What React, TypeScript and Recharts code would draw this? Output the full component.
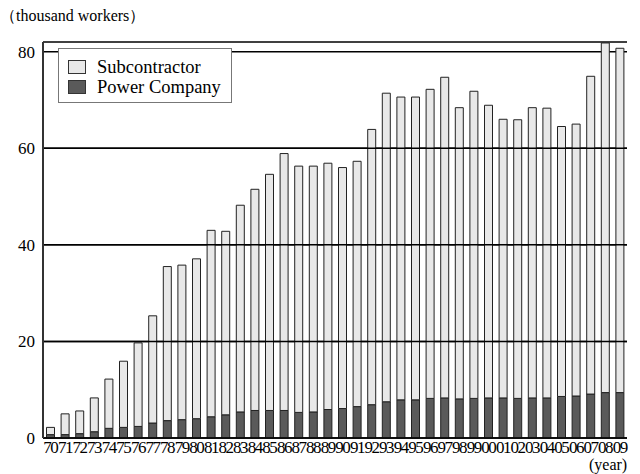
import { Bar, BarChart, CartesianGrid, ReferenceLine, XAxis, YAxis } from "recharts";

const years = [
    "70", "71", "72", "73", "74", "75", "76", "77", "78", "79",
    "80", "81", "82", "83", "84", "85", "86", "87", "88", "89",
    "90", "91", "92", "93", "94", "95", "96", "97", "98", "99",
    "00", "01", "02", "03", "04", "05", "06", "07", "08", "09",
];
// thousand workers
const powerCompany = [
    0.7, 0.7, 0.9, 1.3, 2.0, 2.2, 2.4, 3.1, 3.6, 3.8,
    4.0, 4.4, 4.8, 5.4, 5.7, 5.7, 5.7, 5.3, 5.4, 5.9,
    6.1, 6.5, 6.9, 7.5, 7.9, 7.9, 8.2, 8.3, 8.1, 8.2,
    8.3, 8.3, 8.2, 8.3, 8.3, 8.6, 8.7, 9.1, 9.4, 9.4,
];
const subcontractor = [
    1.5, 4.3, 4.7, 7.0, 10.2, 13.7, 17.3, 22.2, 31.9, 32.0,
    33.1, 38.6, 38.0, 42.8, 45.8, 48.9, 53.2, 51.0, 50.9, 51.0,
    49.9, 50.8, 57.0, 63.9, 62.7, 62.7, 64.0, 66.4, 60.3, 63.6,
    60.6, 57.7, 57.7, 60.1, 60.0, 55.9, 56.3, 65.8, 72.4, 71.3,
];
const yTicks = [0, 20, 40, 60, 80];
const gridOnTop = [20, 40, 60];

const data = years.map((y, i) => ({
    year: y,
    power: powerCompany[i],
    sub: subcontractor[i],
}));

const serif = "Liberation Serif, serif";
const LIGHT = "#e8e8e8";
const DARK = "#5a5a5a";

function YearTick({ x, y, payload }: any) {
    return (
        <text x={x} y={y} dy={7} textAnchor="middle" fontFamily={serif} fontSize={17} letterSpacing={-1.5} fill="#000">
            {payload.value}
        </text>
    );
}

export default function App() {
    return (
        <div style={{ position: "absolute", left: 0, top: 0, width: 640, height: 474, background: "#fff", overflow: "hidden" }}>
            <div style={{ position: "absolute", left: 0, top: 8, fontFamily: serif, fontSize: 16, lineHeight: 1, whiteSpace: "nowrap" }}>
                （thousand workers）
            </div>
            <BarChart
                width={640}
                height={474}
                data={data}
                barCategoryGap="24%"
                margin={{ top: 42, right: 13, left: 0, bottom: 0 }}
            >
                <CartesianGrid vertical={false} stroke="#000" strokeWidth={1.5} />
                <XAxis
                    dataKey="year"
                    interval={0}
                    tickLine={false}
                    axisLine={{ stroke: "#000", strokeWidth: 1.5 }}
                    height={36}
                    tick={<YearTick />}
                />
                <YAxis
                    width={43}
                    domain={[0, 82]}
                    ticks={yTicks}
                    tickLine={false}
                    axisLine={{ stroke: "#333", strokeWidth: 2 }}
                    tick={{ fill: "#000", fontSize: 17, fontFamily: serif }}
                />
                <Bar dataKey="power" stackId="a" fill={DARK} stroke="#222" strokeWidth={1} isAnimationActive={false} />
                <Bar dataKey="sub" stackId="a" fill={LIGHT} stroke="#222" strokeWidth={1} isAnimationActive={false} />
                {gridOnTop.map((v) => (
                    <ReferenceLine key={v} y={v} stroke="#000" strokeWidth={1.5} />
                ))}
            </BarChart>
            <div
                style={{
                    position: "absolute",
                    left: 58,
                    top: 48,
                    width: 174,
                    height: 55,
                    border: "1px solid #777",
                    background: "#fff",
                    fontFamily: serif,
                    fontSize: 18.5,
                    lineHeight: 1,
                    paddingTop: 8,
                    boxSizing: "border-box",
                }}
            >
                {[
                    { label: "Subcontractor", color: LIGHT },
                    { label: "Power Company", color: DARK },
                ].map((item) => (
                    <div key={item.label} style={{ display: "flex", alignItems: "center", height: 20, paddingLeft: 9 }}>
                        <span
                            style={{
                                display: "inline-block",
                                width: 16,
                                height: 12,
                                background: item.color,
                                border: "1px solid #333",
                                marginRight: 11,
                            }}
                        />
                        <span>{item.label}</span>
                    </div>
                ))}
            </div>
            <div style={{ position: "absolute", left: 589, top: 457, fontFamily: serif, fontSize: 16, lineHeight: 1, whiteSpace: "nowrap" }}>
                (year)
            </div>
        </div>
    );
}
